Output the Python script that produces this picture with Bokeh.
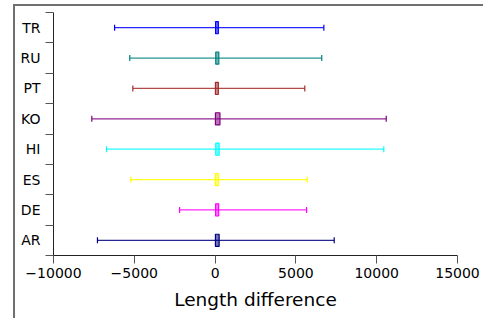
from bokeh.plotting import figure
from bokeh.models import FixedTicker, ColumnDataSource
from bokeh.embed import file_html
from bokeh.resources import INLINE

# data (bottom to top)
languages = ["AR", "DE", "ES", "HI", "KO", "PT", "RU", "TR"]
whisker_low = [-7280, -2200, -5220, -6720, -7630, -5090, -5280, -6220]
whisker_high = [7370, 5660, 5700, 10440, 10590, 5550, 6600, 6730]
q1 = [20, 30, 20, 40, 20, 20, 40, 30]
q3 = [250, 220, 200, 250, 300, 200, 230, 200]
colors = ["#000080", "#ff00ff", "#ffff00", "#00ffff", "#800080", "#a52a2a", "#008080", "#0000ff"]
x_ticks = [-10000, -5000, 0, 5000, 10000, 15000]

ypos = [i + 0.5 for i in range(len(languages))]
src = ColumnDataSource(dict(
    y=ypos, lo=whisker_low, hi=whisker_high, q1=q1, q3=q3, color=colors,
    ylo=[y - 0.1 for y in ypos], yhi=[y + 0.1 for y in ypos],
))

p = figure(width=470, height=314, x_range=(-10000, 15000), y_range=(0, len(languages)),
           output_backend="svg", toolbar_location=None,
           min_border_left=38, min_border_right=28, min_border_top=6, min_border_bottom=65)
p.styles = {"margin-left": "13px", "margin-top": "4px",
            "border-top": "2px solid #707070", "border-left": "2px solid #707070"}
p.outline_line_color = None
p.grid.visible = False

p.segment(x0="lo", x1="hi", y0="y", y1="y", line_color="color", line_width=1.2, line_alpha=0.85, source=src)
p.segment(x0="lo", x1="lo", y0="ylo", y1="yhi", line_color="color", line_width=1.2, source=src)
p.segment(x0="hi", x1="hi", y0="ylo", y1="yhi", line_color="color", line_width=1.2, source=src)
p.hbar(y="y", left="q1", right="q3", height=0.4, fill_color="color", fill_alpha=0.55,
       line_color="color", line_width=1.2, source=src)

xa = p.xaxis[0]
xa.ticker = FixedTicker(ticks=x_ticks, minor_ticks=[])
xa.major_label_overrides = {t: (str(t).replace("-", "\u2212")) for t in x_ticks}
xa.axis_label = "Length difference"
xa.axis_label_text_font = "DejaVu Sans"
xa.axis_label_text_font_style = "normal"
xa.axis_label_text_font_size = "18.5px"
xa.axis_label_text_color = "#000000"
xa.axis_label_standoff = 8
xa.major_label_text_font = "DejaVu Sans"
xa.major_label_text_font_size = "14px"
xa.major_label_text_color = "#000000"
xa.major_label_standoff = 4
xa.major_tick_out = 8
xa.major_tick_in = 0
xa.major_tick_line_color = "#555555"
xa.axis_line_color = "#222222"

ya = p.yaxis[0]
ya.ticker = FixedTicker(ticks=ypos, minor_ticks=list(range(len(languages) + 1)))
ya.major_label_overrides = {y: lab for y, lab in zip(ypos, languages)}
ya.major_label_text_font = "DejaVu Sans"
ya.major_label_text_font_size = "14px"
ya.major_label_text_color = "#000000"
ya.major_label_standoff = 5
ya.major_tick_out = 0
ya.major_tick_in = 0
ya.minor_tick_out = 8
ya.minor_tick_in = 0
ya.minor_tick_line_color = "#555555"
ya.axis_line_color = "#222222"

open("out.html", "w").write(file_html(p, INLINE))
